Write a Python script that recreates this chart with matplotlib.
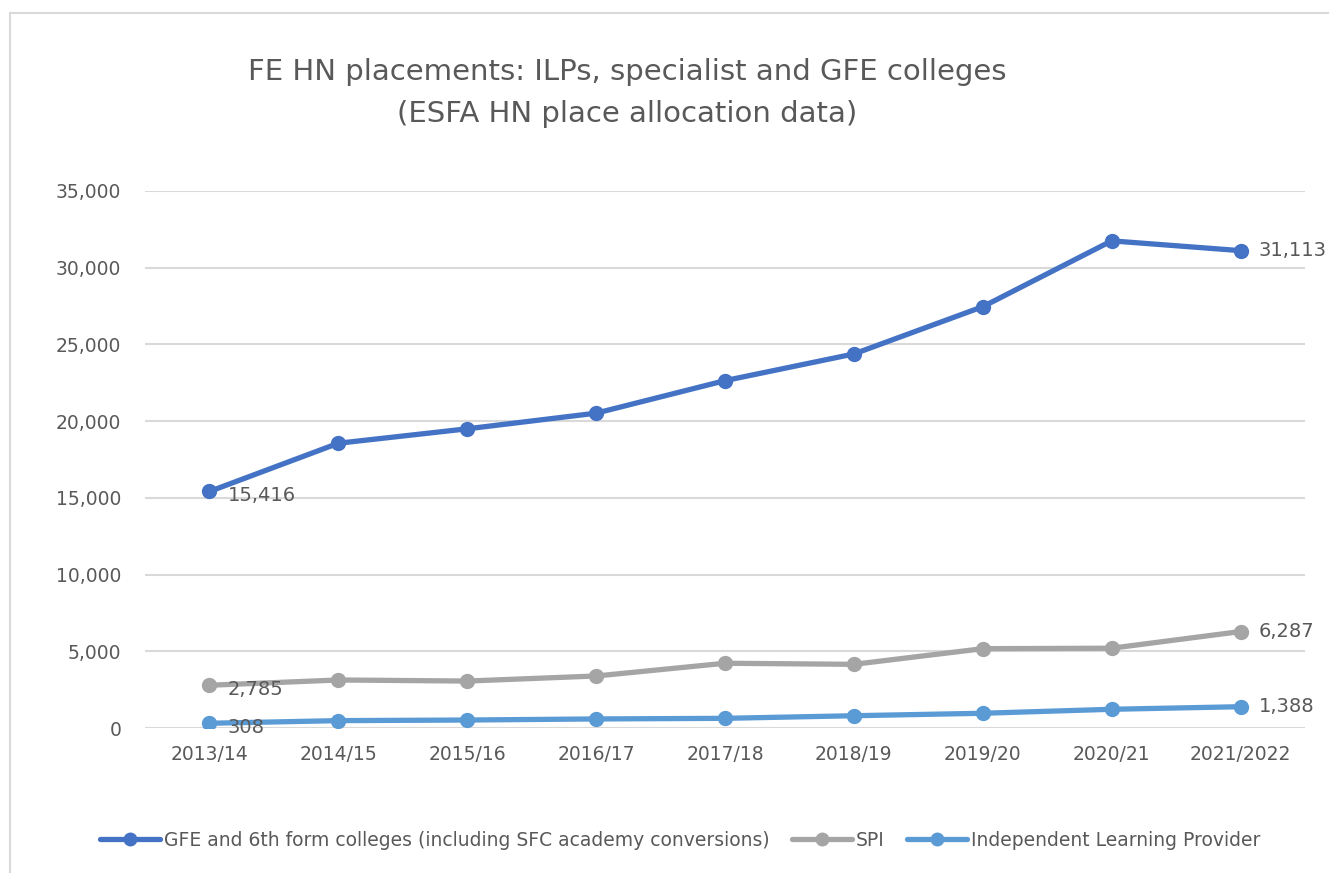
import matplotlib.pyplot as plt
from matplotlib.patches import Rectangle
from matplotlib.ticker import FuncFormatter

# данные
years = ['2013/14', '2014/15', '2015/16', '2016/17', '2017/18',
         '2018/19', '2019/20', '2020/21', '2021/2022']
gfe = [15416, 18560, 19500, 20520, 22640, 24380, 27460, 31750, 31113]
spi = [2785, 3130, 3060, 3390, 4220, 4150, 5170, 5200, 6287]
ilp = [308, 480, 520, 590, 630, 800, 960, 1220, 1388]
names = ['GFE and 6th form colleges (including SFC academy conversions)',
         'SPI', 'Independent Learning Provider']
colors = ['#4472C4', '#A5A5A5', '#5B9BD5']
text_col = '#595959'

fig = plt.figure(figsize=(13.29, 8.73), dpi=100)
ax = fig.add_axes([145 / 1329, 1 - 728 / 873, 1160 / 1329, 537 / 873])

# рамка области диаграммы
fig.patches.append(Rectangle((10 / 1329, -0.1), 1.2, 1 - 13 / 873 + 0.1,
                             transform=fig.transFigure, fill=False,
                             edgecolor='#D9D9D9', lw=1.5, zorder=0))

x = list(range(len(years)))
for ys, name, c in zip([gfe, spi, ilp], names, colors):
    ax.plot(x, ys, '-o', color=c, lw=3.8, ms=10, label=name,
            solid_capstyle='round', zorder=3)
    # подписи только у первой и последней точки
    for i in (0, len(ys) - 1):
        ax.annotate(f'{ys[i]:,}', (x[i], ys[i]), xytext=(13, -3 if i == 0 else 0),
                    textcoords='offset points', ha='left', va='center',
                    fontsize=14, color=text_col)

ax.set_xlim(-0.5, 8.5)
ax.set_ylim(0, 35000)
ax.set_yticks(range(0, 35001, 5000))
ax.yaxis.set_major_formatter(FuncFormatter(lambda v, _: f'{int(v):,}'))
ax.set_xticks(x)
ax.set_xticklabels(years)
ax.tick_params(axis='y', length=0, pad=17, labelsize=13.5, labelcolor=text_col)
ax.tick_params(axis='x', length=0, pad=12, labelsize=13.5, labelcolor=text_col)
ax.grid(axis='y', color='#D9D9D9', lw=1.5)
ax.set_axisbelow(True)
for s in ax.spines.values():
    s.set_visible(False)

fig.text(627 / 1329, 1 - 93 / 873,
         'FE HN placements: ILPs, specialist and GFE colleges\n(ESFA HN place allocation data)',
         ha='center', va='center', fontsize=21, color=text_col, linespacing=1.6)

fig.legend(loc='center', bbox_to_anchor=(680 / 1329, 1 - 840 / 873), ncol=3,
           frameon=False, fontsize=13.5, labelcolor=text_col, handlelength=3.2,
           handletextpad=0.2, columnspacing=1.2, markerscale=0.9)

fig.savefig('out.png', dpi=100)
